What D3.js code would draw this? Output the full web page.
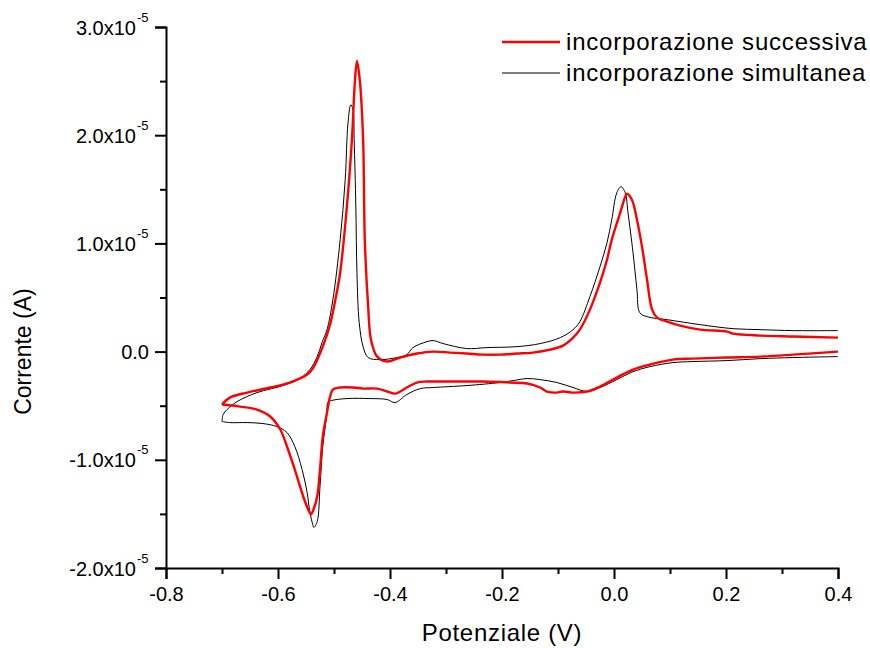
<!DOCTYPE html>
<html>
<head>
<meta charset="utf-8">
<script src="https://cdn.jsdelivr.net/npm/d3@7"></script>
<style>
  body { margin: 0; background: #fff; }
  svg { display: block; font-family: "Liberation Sans", Arial, sans-serif; }
</style>
</head>
<body>
<svg id="chart" width="870" height="648"></svg>
<script>
// potential (V) and current (units of 1e-5 A)
// forward sweep (-0.7 -> 0.4) and reverse sweep (0.4 -> -0.7) of each voltammogram
const successivaFwdV = [-0.700,-0.686,-0.655,-0.614,-0.579,-0.548,-0.538,-0.520,-0.507,-0.498,-0.489,-0.477,-0.468,-0.4625,-0.459,-0.454,-0.448,-0.445,-0.439,-0.434,-0.423,-0.405,-0.382,-0.352,-0.323,-0.293,-0.263,-0.234,-0.204,-0.173,-0.145,-0.114,-0.091,-0.073,-0.061,-0.043,-0.025,-0.0125,-0.004,0.011,0.020,0.023,0.032,0.041,0.050,0.059,0.068,0.077,0.095,0.118,0.154,0.202,0.2125,0.261,0.320,0.400];
const successivaFwdI = [-0.489,-0.425,-0.379,-0.332,-0.286,-0.212,-0.157,0.046,0.250,0.470,0.729,1.339,1.958,2.512,2.687,2.512,1.958,1.034,0.416,0.111,-0.046,-0.092,-0.055,-0.018,0.000,-0.009,-0.018,-0.028,-0.028,-0.018,-0.009,0.018,0.055,0.129,0.203,0.388,0.637,0.849,1.034,1.283,1.431,1.459,1.404,1.219,0.970,0.665,0.388,0.314,0.277,0.240,0.203,0.185,0.166,0.148,0.139,0.129];
const successivaRevV = [0.400,0.320,0.261,0.202,0.141,0.105,0.064,0.034,0.005,-0.025,-0.048,-0.073,-0.091,-0.105,-0.120,-0.132,-0.155,-0.186,-0.234,-0.293,-0.334,-0.352,-0.370,-0.391,-0.405,-0.423,-0.448,-0.466,-0.489,-0.502,-0.507,-0.5125,-0.520,-0.525,-0.530,-0.538,-0.541,-0.546,-0.555,-0.570,-0.584,-0.596,-0.614,-0.6375,-0.668,-0.700];
const successivaRevI = [0.000,-0.028,-0.046,-0.055,-0.065,-0.074,-0.120,-0.166,-0.240,-0.323,-0.369,-0.379,-0.369,-0.379,-0.369,-0.332,-0.295,-0.286,-0.277,-0.277,-0.277,-0.286,-0.332,-0.388,-0.369,-0.342,-0.342,-0.332,-0.332,-0.351,-0.416,-0.563,-0.785,-1.090,-1.339,-1.477,-1.505,-1.459,-1.339,-1.090,-0.877,-0.720,-0.600,-0.536,-0.508,-0.489];

const simultaneaFwdV = [-0.700,-0.698,-0.691,-0.673,-0.6375,-0.591,-0.561,-0.543,-0.530,-0.521,-0.5125,-0.502,-0.489,-0.480,-0.475,-0.470,-0.466,-0.464,-0.461,-0.459,-0.455,-0.448,-0.439,-0.418,-0.3875,-0.370,-0.359,-0.334,-0.323,-0.305,-0.263,-0.227,-0.173,-0.132,-0.096,-0.073,-0.061,-0.043,-0.025,-0.0125,-0.004,0.005,0.0125,0.020,0.025,0.034,0.041,0.046,0.059,0.095,0.154,0.2125,0.261,0.320,0.400];
const simultaneaFwdI = [-0.646,-0.582,-0.536,-0.462,-0.379,-0.314,-0.249,-0.166,-0.046,0.090,0.203,0.480,1.034,1.588,2.114,2.281,2.235,1.958,1.339,0.729,0.268,0.046,-0.055,-0.074,-0.055,-0.028,0.037,0.092,0.102,0.074,0.028,0.037,0.046,0.074,0.129,0.203,0.277,0.508,0.785,1.006,1.219,1.468,1.524,1.468,1.283,0.914,0.572,0.360,0.323,0.295,0.249,0.212,0.203,0.194,0.194];
const simultaneaRevV = [0.400,0.320,0.261,0.202,0.141,0.105,0.064,0.034,0.005,-0.025,-0.048,-0.073,-0.102,-0.132,-0.155,-0.180,-0.204,-0.263,-0.323,-0.346,-0.370,-0.391,-0.405,-0.436,-0.477,-0.504,-0.511,-0.5125,-0.520,-0.525,-0.530,-0.536,-0.538,-0.543,-0.548,-0.557,-0.570,-0.584,-0.602,-0.627,-0.655,-0.686,-0.700];
const simultaneaRevI = [-0.046,-0.055,-0.065,-0.083,-0.092,-0.102,-0.139,-0.185,-0.259,-0.332,-0.369,-0.332,-0.286,-0.259,-0.249,-0.268,-0.286,-0.314,-0.332,-0.342,-0.397,-0.471,-0.443,-0.434,-0.434,-0.452,-0.471,-0.563,-0.877,-1.247,-1.570,-1.625,-1.597,-1.487,-1.302,-1.090,-0.877,-0.748,-0.693,-0.665,-0.656,-0.656,-0.646];

const xMajor = [-0.8, -0.6, -0.4, -0.2, 0.0, 0.2, 0.4];
const xMinor = [-0.7, -0.5, -0.3, -0.1, 0.1, 0.3];
const yMajor = [-2, -1, 0, 1, 2, 3];
const yMinor = [-1.5, -0.5, 0.5, 1.5, 2.5];

const seriesNames = ['incorporazione successiva', 'incorporazione simultanea'];

function zip(xs, ys) {
  return xs.map((v, i) => [v, ys[i]]);
}

function fmt(d) {
  return d3.format('.1f')(d).replace('−', '-');
}

function renderChart(svg) {
  const plot = { left: 166, right: 838, top: 27, bottom: 568 };

  const x = d3.scaleLinear().domain([-0.8, 0.4]).range([plot.left, plot.right]);
  const y = d3.scaleLinear().domain([-2, 3]).range([plot.bottom, plot.top]);

  const line = d3.line()
    .x(d => x(d[0]))
    .y(d => y(d[1]))
    .curve(d3.curveCatmullRom.alpha(0.5));

  const series = [
    { name: seriesNames[0], color: '#ff0000', width: 2.4,
      sweeps: [zip(successivaFwdV, successivaFwdI), zip(successivaRevV, successivaRevI)] },
    { name: seriesNames[1], color: '#000000', width: 1,
      sweeps: [zip(simultaneaFwdV, simultaneaFwdI), zip(simultaneaRevV, simultaneaRevI)] }
  ];

  // curves: black below, red on top
  svg.append('g').attr('class', 'curves')
    .selectAll('g')
    .data(series.slice().reverse())
    .join('g')
      .attr('fill', 'none')
      .attr('stroke', d => d.color)
      .attr('stroke-width', d => d.width)
      .attr('stroke-linejoin', 'round')
    .selectAll('path')
    .data(d => d.sweeps)
    .join('path')
      .attr('d', line);

  // x axis
  const gx = svg.append('g')
    .attr('transform', `translate(0,${plot.bottom})`)
    .call(d3.axisBottom(x).tickValues(xMajor).tickSize(11).tickPadding(8).tickFormat(fmt));
  gx.append('g')
    .call(d3.axisBottom(x).tickValues(xMinor).tickSize(6).tickFormat(''))
    .select('.domain').remove();

  // y axis
  const gy = svg.append('g')
    .attr('transform', `translate(${plot.left},0)`)
    .call(d3.axisLeft(y).tickValues(yMajor).tickSize(11).tickFormat(''));
  gy.append('g')
    .call(d3.axisLeft(y).tickValues(yMinor).tickSize(6).tickFormat(''))
    .select('.domain').remove();

  gy.selectAll(':scope > .tick').each(function(d) {
    const tick = d3.select(this);
    tick.select('text').remove();
    const t = tick.append('text')
      .attr('fill', '#000')
      .attr('x', d === 0 ? -17 : -30)
      .attr('dy', '0.35em')
      .attr('text-anchor', 'end');
    if (d === 0) {
      t.text('0.0');
    } else {
      t.text(fmt(d) + 'x10');
      tick.append('text')
        .attr('fill', '#000')
        .attr('x', -29)
        .attr('y', -6)
        .attr('font-size', 13)
        .attr('text-anchor', 'start')
        .text('-5');
    }
  });

  [gx, gy].forEach(g => {
    g.attr('font-family', null).attr('font-size', 20);
    g.selectAll('.domain').attr('stroke-width', 2);
    g.selectAll('.tick line').attr('stroke-width', 2);
  });

  // axis titles
  svg.append('text')
    .attr('x', 502)
    .attr('y', 641)
    .attr('text-anchor', 'middle')
    .attr('font-size', 24)
    .attr('letter-spacing', 0.7)
    .text('Potenziale (V)');

  svg.append('text')
    .attr('transform', `translate(31,${y(0)}) rotate(-90)`)
    .attr('text-anchor', 'middle')
    .attr('font-size', 23)
    .text('Corrente (A)');

  // legend
  const legend = svg.append('g').attr('class', 'legend')
    .selectAll('g')
    .data(series)
    .join('g')
      .attr('transform', (d, i) => `translate(502,${42 + i * 31})`);
  legend.append('line')
    .attr('x1', 0).attr('x2', 58)
    .attr('stroke', d => d.color)
    .attr('stroke-width', d => d.width);
  legend.append('text')
    .attr('x', 64)
    .attr('dy', '0.35em')
    .attr('font-size', 24)
    .attr('letter-spacing', 0.8)
    .text(d => d.name);
}

renderChart(d3.select('#chart'));
</script>
</body>
</html>
